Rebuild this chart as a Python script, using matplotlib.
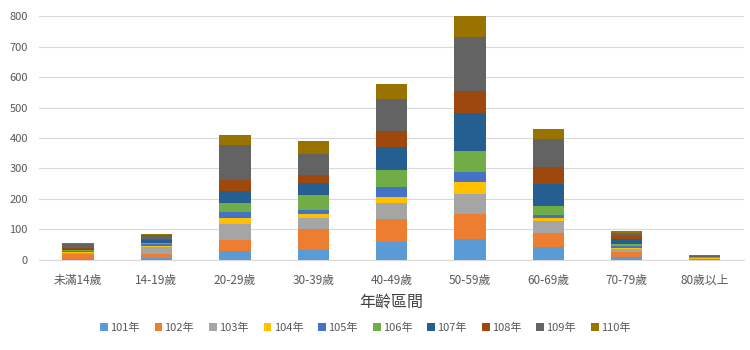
import matplotlib
matplotlib.use("Agg")
import matplotlib.pyplot as plt
import numpy as np

plt.rcParams['font.family'] = ['Noto Sans CJK TC', 'DejaVu Sans']

categories = ["未滿14歲", "14-19歲", "20-29歲", "30-39歲", "40-49歲", "50-59歲", "60-69歲", "70-79歲", "80歲以上"]
series_names = ["101年", "102年", "103年", "104年", "105年", "106年", "107年", "108年", "109年", "110年"]

y101 = [3, 4, 28, 32, 58, 69, 41, 8, 1]
y102 = [15, 15, 38, 68, 75, 80, 46, 18, 1]
y103 = [5, 22, 51, 38, 55, 67, 39, 8, 1]
y104 = [2, 3, 20, 11, 17, 39, 12, 5, 1]
y105 = [4, 8, 19, 13, 33, 34, 8, 6, 1]
y106 = [3, 4, 31, 50, 56, 70, 31, 8, 3]
y107 = [4, 8, 40, 39, 76, 122, 72, 14, 1]
y108 = [3, 3, 35, 28, 53, 73, 56, 10, 1]
y109 = [12, 13, 114, 69, 105, 180, 93, 10, 3]
y110 = [4, 5, 33, 41, 50, 66, 33, 9, 2]

series = [y101, y102, y103, y104, y105, y106, y107, y108, y109, y110]
colors = ["#5B9BD5", "#ED7D31", "#A5A5A5", "#FFC000", "#4472C4",
          "#70AD47", "#255E91", "#9E480E", "#636363", "#997300"]

fig = plt.figure(figsize=(7.5, 3.5), dpi=100)
ax = fig.add_axes([0.052, 0.258, 0.94, 0.695])

x = np.arange(len(categories))
bottom = np.zeros(len(categories))
for name, vals, c in zip(series_names, series, colors):
    ax.bar(x, vals, width=0.4, bottom=bottom, color=c, label=name, zorder=3)
    bottom += np.array(vals)

ax.set_xlim(-0.5, len(categories) - 0.5)
ax.set_ylim(0, 800)
ax.set_yticks(range(0, 801, 100))
ax.yaxis.grid(True, color="#D9D9D9", linewidth=0.8, zorder=0)
ax.set_xticks(x)
ax.set_xticklabels(categories)
ax.tick_params(axis='both', length=0, labelsize=8, colors="#595959")
ax.tick_params(axis='x', labelsize=8.5, pad=10)
ax.tick_params(axis='y', pad=8)
for s in ["top", "right", "left"]:
    ax.spines[s].set_visible(False)
ax.spines["bottom"].set_color("#D9D9D9")
ax.set_xlabel("年齡區間", fontsize=11.5, color="#404040", labelpad=5)

fig.legend(loc="center", bbox_to_anchor=(0.487, 0.063), ncol=10, frameon=False,
           fontsize=8, handlelength=0.7, handleheight=0.7, handletextpad=0.2,
           columnspacing=1.35, labelcolor="#595959")

fig.savefig("out.png", dpi=100)
